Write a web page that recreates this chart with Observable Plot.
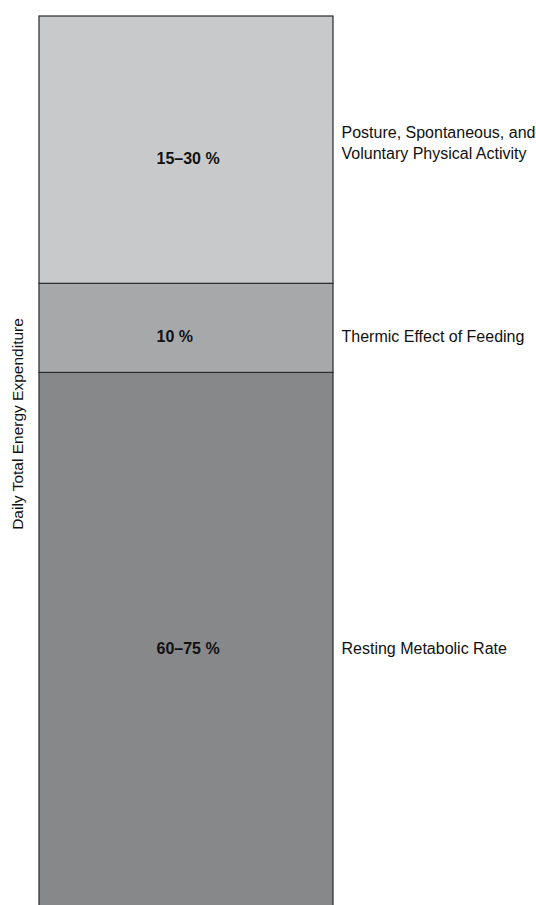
<!DOCTYPE html>
<html>
<head>
<meta charset="utf-8">
<script src="https://cdn.jsdelivr.net/npm/d3@7"></script>
<script src="https://cdn.jsdelivr.net/npm/@observablehq/plot@0.6"></script>
<style>
  html, body { margin: 0; padding: 0; background: #fff; overflow: hidden; }
</style>
</head>
<body>
<div id="chart"></div>
<script>
// Components of daily total energy expenditure (stacked from bottom)
const segments = [
  "Resting Metabolic Rate",
  "Thermic Effect of Feeding",
  "Posture, Spontaneous, and\nVoluntary Physical Activity"
];
const shares = [60, 10, 30];
const rangeLabels = ["60–75 %", "10 %", "15–30 %"];
const yTitle = "Daily Total Energy Expenditure";

const segmentColors = ["#87888a", "#a7a8aa", "#c8c9cb"];

const data = segments.map((s, i) => ({
  group: "TEE",
  segment: s,
  share: shares[i],
  range: rangeLabels[i],
  top: i === segments.length - 1
}));

const chart = Plot.plot({
  width: 536,
  height: 907,
  marginTop: 16,
  marginBottom: 0,
  marginLeft: 39,
  marginRight: 203,
  style: { fontFamily: "'Liberation Sans', Arial, Helvetica, sans-serif", background: "#fff", overflow: "visible" },
  x: { type: "band", domain: ["TEE"], padding: 0, axis: null },
  y: { domain: [0, 100], axis: null },
  color: { domain: segments, range: segmentColors },
  marks: [
    Plot.barY(data, {
      x: "group", y: "share", fill: "segment",
      stroke: "#2b2b2b", strokeWidth: 1.2
    }),
    Plot.text(data, Plot.stackY({
      x: "group", y: "share", text: "range",
      textAnchor: "start", dx: -30, dy: 9,
      fontSize: 16, fontWeight: "bold", fill: "#111"
    })),
    Plot.text(data.filter(d => !d.top), Plot.stackY({
      y: "share", text: "segment", frameAnchor: "right",
      textAnchor: "start", dx: 8, dy: 9,
      fontSize: 16, fill: "#111"
    })),
    Plot.text(data, Plot.stackY({
      y: "share", text: d => d.top ? d.segment : "", frameAnchor: "right",
      textAnchor: "start", dx: 8, dy: -8, lineHeight: 1.3,
      fontSize: 16, fill: "#111"
    })),
    Plot.text([yTitle], {
      text: d => d, frameAnchor: "left", rotate: -90, textAnchor: "middle",
      dx: -21, dy: -38, fontSize: 15.5, fill: "#111"
    })
  ]
});

document.getElementById("chart").appendChild(chart);
</script>
</body>
</html>
